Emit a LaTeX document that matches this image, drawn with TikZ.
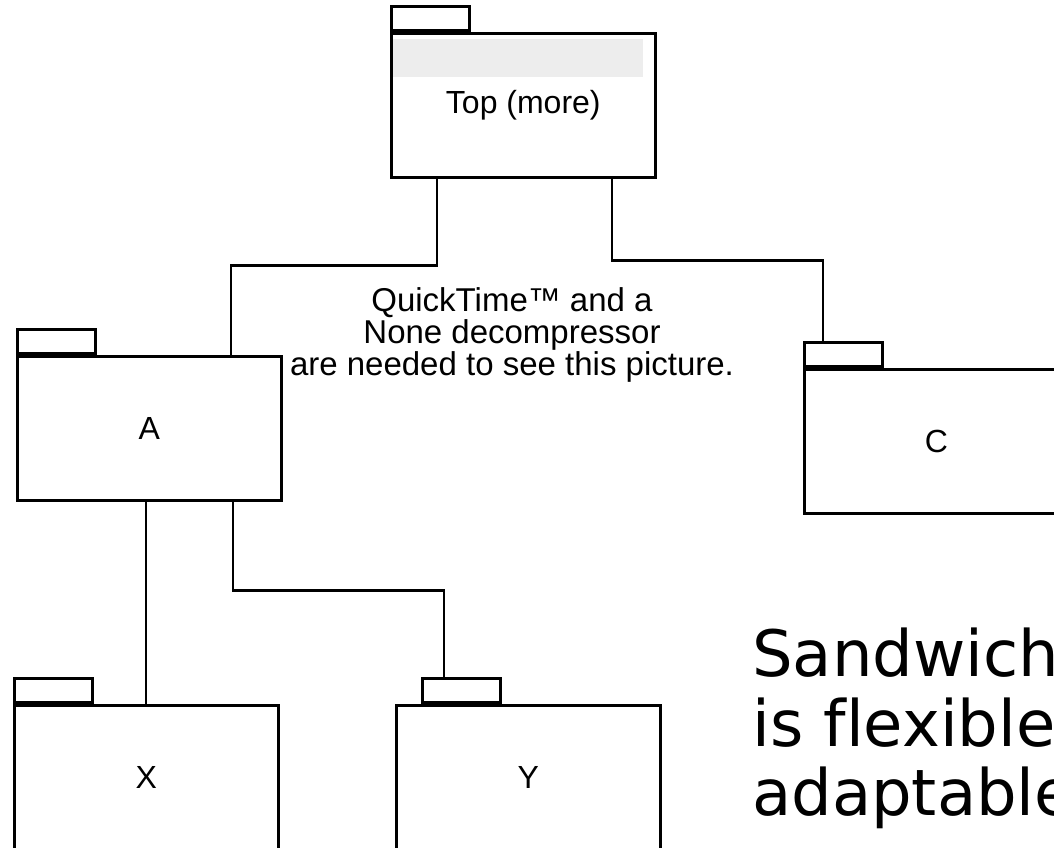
\documentclass[tikz,border=0pt]{standalone}
\usepackage{fontspec}
\setmainfont{Liberation Sans}
\newfontfamily\bigsans[Ligatures=NoCommon]{DejaVu Sans}
\newcommand\qtfont{\fontsize{33}{32}\selectfont\lineskiplimit=-50pt\relax}
\tikzset{
  every picture/.style={x=1pt,y=-1pt},
  pkgbody/.style={draw=black, line width=2.6pt, fill=white, minimum width=264pt, minimum height=144pt, inner sep=0pt, anchor=north west, font=\fontsize{32}{36}\selectfont},
  pkgtab/.style={draw=black, line width=2.6pt, fill=white, minimum width=78pt, minimum height=24pt, inner sep=0pt, anchor=south west},
  conn/.style={draw=black, line width=2.6pt},
  bar/.style={fill=black!7, draw=none, minimum width=250pt, minimum height=38pt, inner sep=0pt, anchor=north west},
  bigtext/.style={anchor=base west, inner sep=0pt, font=\bigsans\fontsize{64}{70}\selectfont},
}
\begin{document}
\begin{tikzpicture}
\useasboundingbox (0,0) rectangle (1054,847);
\clip (0,0) rectangle (1054,847);
\fill[white] (0,0) rectangle (1054,847);
% packages
\node[pkgbody] (top) at (390,32) {Top (more)};
\node[pkgtab] (toptab) at (top.north west) {};
\node[bar] (topbar) at (393,39) {};
\node[pkgbody] (A) at (16,355) {A};
\node[pkgtab] (Atab) at (A.north west) {};
\node[pkgbody] (C) at (803,368) {C};
\node[pkgtab] (Ctab) at (C.north west) {};
\node[pkgbody] (X) at (13,704) {X};
\node[pkgtab] (Xtab) at (X.north west) {};
\node[pkgbody] (Y) at (395,704) {Y};
\node[pkgtab] (Ytab) at ([xshift=26pt]Y.north west) {};
% connectors
\draw[conn] ([xshift=47pt]top.south west) -- ++(0,87) -| ([xshift=215pt]A.north west);
\draw[conn] ([xshift=222pt]top.south west) -- ++(0,82) -| ([xshift=20pt]Ctab.north west);
\draw[conn] ([xshift=130pt]A.south west) -- ([xshift=133pt]X.north west);
\draw[conn] ([xshift=217pt]A.south west) -- ++(0,89) -| ([xshift=23pt]Ytab.north west);
% placeholder text
\node[align=center, inner sep=0pt, font=\qtfont] (qt) at (512,334.5) {QuickTime™ and a\\None decompressor\\are needed to see this picture.};
% big text
\node[bigtext] (s1) at (752,676) {Sandwich};
\node[bigtext] (s2) at (752,746) {is flexible};
\node[bigtext] (s3) at (752,815) {adaptable};
\end{tikzpicture}
\end{document}
